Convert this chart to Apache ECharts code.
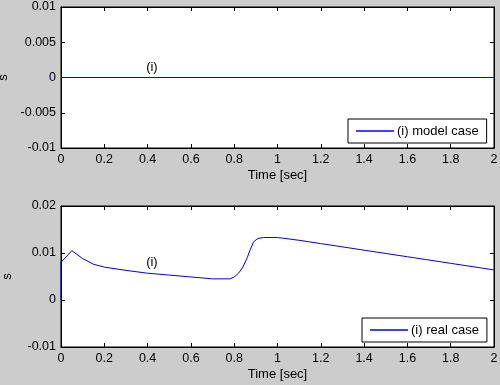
<!DOCTYPE html>
<html>
<head>
<meta charset="utf-8">
<script src="https://cdn.jsdelivr.net/npm/echarts@6/dist/echarts.min.js"></script>
<style>
html,body{margin:0;padding:0;background:#cccccc;}
#c{width:500px;height:385px;}
</style>
</head>
<body>
<div id="c"></div>
<script>
// ---- data ----
var timeModel = [0, 2];
var valuesModel = [0, 0];
var timeReal = [0, 0, 0.05, 0.1, 0.15, 0.2, 0.3, 0.4, 0.5, 0.6, 0.7, 0.78, 0.8, 0.82, 0.84, 0.86, 0.873, 0.89, 0.91, 0.935, 1.0, 1.1, 1.2, 1.4, 1.6, 1.8, 2.0];
var valuesReal = [0, 0.0080, 0.0105, 0.0088, 0.0076, 0.0070, 0.0063, 0.0057, 0.0053, 0.0049, 0.0045, 0.0045, 0.0049, 0.0057, 0.0070, 0.0090, 0.0106, 0.0124, 0.0131, 0.0133, 0.0133, 0.0127, 0.0120, 0.0106, 0.0092, 0.0078, 0.0064];
var legendNames = ['(i) model case', '(i) real case'];
var annotation = '(i)';
var annotationModel = [0.42, 0.0014];
var annotationReal = [0.42, 0.0079];
var xLabel = 'Time [sec]';
var yLabel = 's';

function zip(a, b) { return a.map(function (v, i) { return [v, b[i]]; }); }

var FONT = 'Liberation Sans';
var tickFont = { fontFamily: FONT, fontSize: 12.5, color: '#000' };

function xAxes(gi) {
  return [{
    type: 'value', gridIndex: gi, position: 'bottom', min: 0, max: 2, interval: 0.2,
    name: xLabel, nameLocation: 'middle', nameGap: 21,
    nameTextStyle: { fontFamily: FONT, fontSize: 13, color: '#000' },
    axisLine: { show: true, onZero: false, lineStyle: { color: '#000', width: 1 } },
    axisTick: { show: true, inside: true, length: 4, lineStyle: { color: '#000' } },
    axisLabel: Object.assign({ margin: 5 }, tickFont),
    splitLine: { show: false }
  }, {
    type: 'value', gridIndex: gi, position: 'top', min: 0, max: 2, interval: 0.2,
    axisLine: { show: true, onZero: false, lineStyle: { color: '#000', width: 1 } },
    axisTick: { show: true, inside: true, length: 4, lineStyle: { color: '#000' } },
    axisLabel: { show: false }, splitLine: { show: false }
  }];
}
function yAxes(gi, min, max, interval) {
  return [{
    type: 'value', gridIndex: gi, position: 'left', min: min, max: max, interval: interval,
    name: yLabel, nameLocation: 'middle', nameGap: 47,
    nameTextStyle: { fontFamily: FONT, fontSize: 13, color: '#000' },
    axisLine: { show: true, onZero: false, lineStyle: { color: '#000', width: 1 } },
    axisTick: { show: true, inside: true, length: 4, lineStyle: { color: '#000' } },
    axisLabel: Object.assign({ margin: 5 }, tickFont),
    splitLine: { show: false }
  }, {
    type: 'value', gridIndex: gi, position: 'right', min: min, max: max, interval: interval,
    axisLine: { show: true, onZero: false, lineStyle: { color: '#000', width: 1 } },
    axisTick: { show: true, inside: true, length: 4, lineStyle: { color: '#000' } },
    axisLabel: { show: false }, splitLine: { show: false }
  }];
}

function legendCfg(name, left, top) {
  return {
    data: [name], left: left, top: top, orient: 'horizontal',
    backgroundColor: '#fff', borderColor: '#000', borderWidth: 1, borderRadius: 0,
    padding: [5, 8, 5, 8], itemWidth: 38, itemHeight: 1.5, icon: 'rect',
    selectedMode: false,
    textStyle: { fontFamily: FONT, fontSize: 13, color: '#000', lineHeight: 14, padding: [0, 0, 0, -2] }
  };
}

function annot(pt) {
  return {
    symbol: 'circle', symbolSize: 0, silent: true,
    label: { show: true, position: 'inside', formatter: annotation, fontFamily: FONT, fontSize: 13, color: '#000' },
    data: [{ coord: pt }]
  };
}

var chart = echarts.init(document.getElementById('c'), null, { renderer: 'canvas' });
chart.setOption({
  backgroundColor: '#cccccc',
  animation: false,
  grid: [
    { left: 61, top: 7, width: 433, height: 141, containLabel: false, outerBoundsMode: 'none', show: true, backgroundColor: '#fff', borderColor: '#000', borderWidth: 1 },
    { left: 61, top: 206, width: 433, height: 141, containLabel: false, outerBoundsMode: 'none', show: true, backgroundColor: '#fff', borderColor: '#000', borderWidth: 1 }
  ],
  xAxis: xAxes(0).concat(xAxes(1)),
  yAxis: yAxes(0, -0.01, 0.01, 0.005).concat(yAxes(1, -0.01, 0.02, 0.01)),
  legend: [legendCfg(legendNames[0], 348, 119), legendCfg(legendNames[1], 362, 318)],
  series: [{
    name: legendNames[0], type: 'line', xAxisIndex: 0, yAxisIndex: 0,
    data: zip(timeModel, valuesModel), symbol: 'none', smooth: false,
    lineStyle: { color: '#0000ff', width: 1 }, itemStyle: { color: '#0000ff' },
    markPoint: annot(annotationModel)
  }, {
    name: legendNames[1], type: 'line', xAxisIndex: 2, yAxisIndex: 2,
    data: zip(timeReal, valuesReal), symbol: 'none', smooth: false,
    lineStyle: { color: '#0000ff', width: 1 }, itemStyle: { color: '#0000ff' },
    markPoint: annot(annotationReal)
  }]
});
</script>
</body>
</html>
